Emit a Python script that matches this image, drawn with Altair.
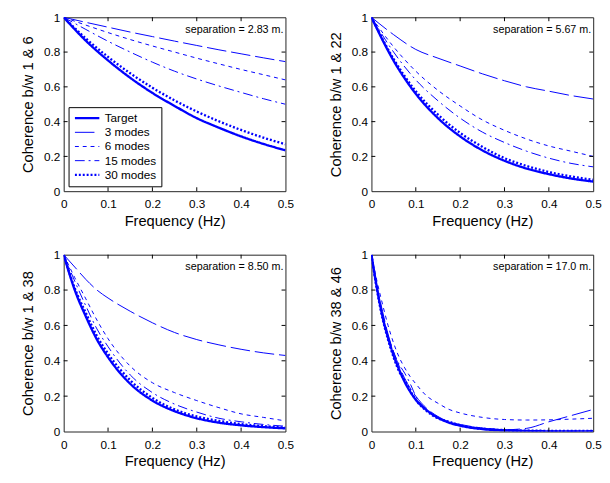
import altair as alt
import pandas as pd

series_names = ["Target", "3 modes", "6 modes", "15 modes", "30 modes"]
x_ticks = [0, 0.1, 0.2, 0.3, 0.4, 0.5]
y_ticks = [0, 0.2, 0.4, 0.6, 0.8, 1.0]
x_inner = [0.1, 0.2, 0.3, 0.4]
y_inner = [0.2, 0.4, 0.6, 0.8]

# Panel 1: separation 2.83 m
p1_freq = [0, 0.05, 0.1, 0.15, 0.2, 0.25, 0.3, 0.35, 0.4, 0.45, 0.5]
p1_target = [1, 0.865, 0.752, 0.652, 0.565, 0.49, 0.42, 0.365, 0.315, 0.272, 0.235]
p1_m3 = [1, 0.971, 0.943, 0.915, 0.889, 0.863, 0.838, 0.813, 0.79, 0.767, 0.745]
p1_m6 = [1, 0.955, 0.912, 0.872, 0.835, 0.80, 0.765, 0.732, 0.70, 0.67, 0.64]
p1_m15 = [1, 0.93, 0.862, 0.80, 0.742, 0.69, 0.645, 0.605, 0.568, 0.532, 0.50]
p1_m30 = [1, 0.878, 0.772, 0.678, 0.595, 0.522, 0.458, 0.402, 0.352, 0.308, 0.27]

# Panel 2: separation 5.67 m
p2_freq = [0, 0.05, 0.1, 0.15, 0.2, 0.25, 0.3, 0.35, 0.4, 0.45, 0.5]
p2_target = [1, 0.75, 0.56, 0.42, 0.315, 0.235, 0.175, 0.13, 0.098, 0.073, 0.055]
p2_m3 = [1, 0.90, 0.815, 0.765, 0.72, 0.675, 0.635, 0.60, 0.575, 0.55, 0.53]
p2_m6 = [1, 0.83, 0.69, 0.58, 0.49, 0.41, 0.35, 0.30, 0.26, 0.23, 0.20]
p2_m15 = [1, 0.80, 0.64, 0.52, 0.42, 0.34, 0.28, 0.23, 0.19, 0.16, 0.14]
p2_m30 = [1, 0.76, 0.575, 0.44, 0.335, 0.255, 0.19, 0.145, 0.11, 0.085, 0.065]

# Panel 3: separation 8.50 m
p3_freq = [0, 0.025, 0.05, 0.075, 0.1, 0.15, 0.2, 0.25, 0.3, 0.35, 0.4, 0.45, 0.5]
p3_target = [1, 0.80, 0.65, 0.52, 0.42, 0.27, 0.175, 0.115, 0.075, 0.05, 0.035, 0.025, 0.018]
p3_m3 = [1, 0.93, 0.86, 0.80, 0.755, 0.68, 0.615, 0.56, 0.52, 0.49, 0.465, 0.445, 0.43]
p3_m6 = [1, 0.87, 0.75, 0.63, 0.525, 0.37, 0.276, 0.22, 0.175, 0.135, 0.10, 0.08, 0.06]
p3_m15 = [1, 0.85, 0.71, 0.58, 0.48, 0.32, 0.22, 0.155, 0.11, 0.075, 0.055, 0.04, 0.03]
p3_m30 = [1, 0.81, 0.67, 0.54, 0.44, 0.29, 0.19, 0.125, 0.085, 0.06, 0.042, 0.03, 0.022]

# Panel 4: separation 17.0 m
p4_freq = [0, 0.0125, 0.025, 0.0375, 0.05, 0.0625, 0.075, 0.0875, 0.1, 0.125, 0.15,
           0.175, 0.2, 0.25, 0.3, 0.35, 0.4, 0.45, 0.5]
p4_target = [1, 0.81, 0.65, 0.53, 0.43, 0.35, 0.28, 0.225, 0.18, 0.12, 0.078,
             0.05, 0.033, 0.014, 0.006, 0.003, 0.001, 0.0, 0.0]
p4_m3 = [1, 0.82, 0.68, 0.55, 0.45, 0.37, 0.30, 0.245, 0.20, 0.13, 0.085,
         0.055, 0.04, 0.02, 0.01, 0.018, 0.055, 0.09, 0.125]
p4_m6 = [1, 0.85, 0.72, 0.60, 0.50, 0.42, 0.36, 0.31, 0.27, 0.20, 0.16,
         0.125, 0.105, 0.08, 0.068, 0.065, 0.066, 0.07, 0.075]
p4_m15 = [1, 0.80, 0.66, 0.54, 0.45, 0.38, 0.33, 0.27, 0.20, 0.12, 0.075,
          0.05, 0.035, 0.02, 0.01, 0.005, 0.003, 0.002, 0.005]
p4_m30 = [1, 0.80, 0.64, 0.52, 0.42, 0.34, 0.29, 0.23, 0.18, 0.115, 0.075,
          0.055, 0.035, 0.015, 0.008, 0.005, 0.004, 0.004, 0.004]

panels = [
    ("Coherence b/w 1 & 6", "separation = 2.83 m.", p1_freq,
     [p1_target, p1_m3, p1_m6, p1_m15, p1_m30]),
    ("Coherence b/w 1 & 22", "separation = 5.67 m.", p2_freq,
     [p2_target, p2_m3, p2_m6, p2_m15, p2_m30]),
    ("Coherence b/w 1 & 38", "separation = 8.50 m.", p3_freq,
     [p3_target, p3_m3, p3_m6, p3_m15, p3_m30]),
    ("Coherence b/w 38 & 46", "separation = 17.0 m.", p4_freq,
     [p4_target, p4_m3, p4_m6, p4_m15, p4_m30]),
]

W = 227
HEIGHTS = [178, 178, 181, 181]
BLUE = "#0000ff"
FONT = "Liberation Sans"
dash_range = [[1, 0], [20, 5], [4, 4], [10, 4, 2, 4], [2, 2]]
width_range = [2.4, 1, 1, 1, 2.4]


def make_panel(ytitle, note, freq, series, show_legend, H):
    rows = []
    for name, vals in zip(series_names, series):
        for f, c in zip(freq, vals):
            rows.append({"series": name, "f": f, "c": c})
    df = pd.DataFrame(rows)

    xs = alt.Scale(domain=[0, 0.5], nice=False, zero=False)
    ys = alt.Scale(domain=[0, 1], nice=False, zero=False)
    x_enc = alt.X("f:Q", scale=xs, axis=alt.Axis(values=x_ticks, format=".1~f",
                                                  title="Frequency (Hz)"))
    y_enc = alt.Y("c:Q", scale=ys, axis=alt.Axis(values=y_ticks, format=".1~f",
                                                  title=ytitle))
    if show_legend:
        legend = alt.Legend(title=None, orient="none", legendX=5, legendY=92,
                            symbolType="stroke", symbolSize=625, clipHeight=12.5,
                            symbolStrokeColor=BLUE, symbolStrokeWidth=1.5,
                            labelFontSize=12, labelFont=FONT, labelColor="black",
                            strokeColor="black", fillColor="white",
                            padding=5, rowPadding=1.5, labelOffset=4)
    else:
        legend = None

    lines = alt.Chart(df).mark_line(color=BLUE, interpolate="monotone", clip=True).encode(
        x=x_enc,
        y=y_enc,
        strokeDash=alt.StrokeDash("series:N",
                                  scale=alt.Scale(domain=series_names, range=dash_range),
                                  legend=legend),
        strokeWidth=alt.StrokeWidth("series:N",
                                    scale=alt.Scale(type="ordinal", domain=series_names,
                                                    range=width_range),
                                    legend=None),
        detail="series:N",
    )

    xt = pd.DataFrame({"f": x_inner})
    yt = pd.DataFrame({"c": y_inner})
    tick_b = alt.Chart(xt).mark_rule(color="black").encode(
        x=x_enc, y=alt.value(H), y2=alt.value(H - 4))
    tick_t = alt.Chart(xt).mark_rule(color="black").encode(
        x=x_enc, y=alt.value(0), y2=alt.value(4))
    tick_l = alt.Chart(yt).mark_rule(color="black").encode(
        y=y_enc, x=alt.value(0), x2=alt.value(4))
    tick_r = alt.Chart(yt).mark_rule(color="black").encode(
        y=y_enc, x=alt.value(W - 4), x2=alt.value(W))

    txt = alt.Chart(pd.DataFrame({"t": [note]})).mark_text(
        align="right", baseline="middle", fontSize=11, font=FONT, color="black"
    ).encode(text="t:N", x=alt.value(W - 2), y=alt.value(13))

    return alt.layer(lines, tick_b, tick_t, tick_l, tick_r, txt).properties(
        width=W, height=H)


charts = [make_panel(t, n, f, s, i == 0, HEIGHTS[i])
          for i, (t, n, f, s) in enumerate(panels)]

top = alt.hconcat(charts[0], charts[1], spacing=34)
bottom = alt.hconcat(charts[2], charts[3], spacing=34)
chart = alt.vconcat(top, bottom, spacing=19).resolve_scale(
    strokeDash="independent", strokeWidth="independent"
).configure(
    padding={"left": 12, "top": -3, "right": 0, "bottom": 0},
    background="white",
).configure_view(
    stroke="#222", strokeWidth=1
).configure_axis(
    domain=False, ticks=False, grid=False,
    labelFont=FONT, labelFontSize=12, labelColor="black",
    titleFont=FONT, titleFontSize=15, titleFontWeight="normal", titleColor="black",
    labelFlush=False,
).configure_axisX(
    labelPadding=8, titlePadding=4
).configure_axisY(
    labelPadding=4, titlePadding=8
)

chart.save("out.html", embed_options={"renderer": "svg", "actions": False})
